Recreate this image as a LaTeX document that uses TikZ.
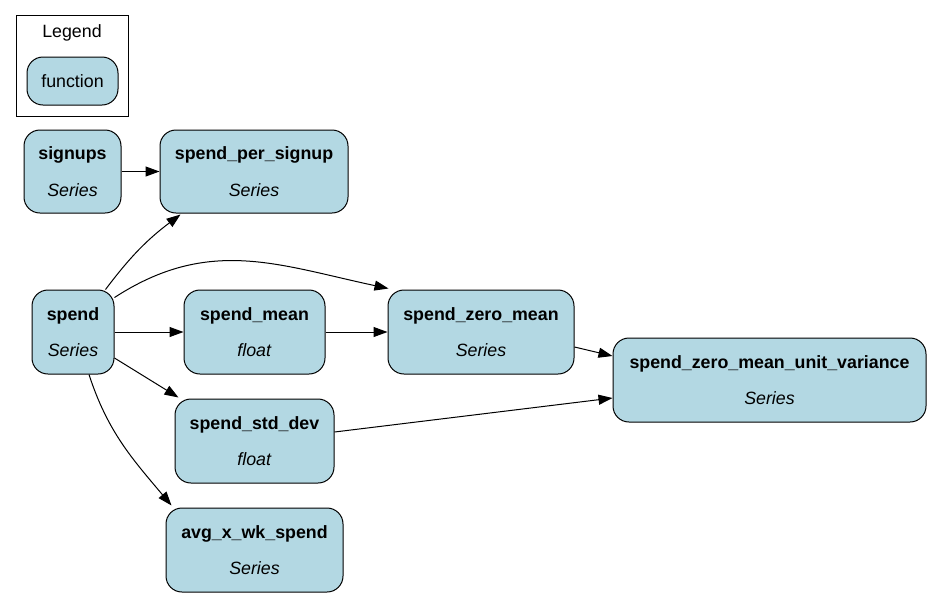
\documentclass[tikz,border=0pt]{standalone}
\usepackage{fontspec}
\setmainfont{Liberation Sans}
\usetikzlibrary{arrows.meta,calc}
\definecolor{nodefill}{HTML}{B3D8E3}
\tikzset{
  fn/.style={draw=black, fill=nodefill, rounded corners=16pt, line width=1pt,
    inner sep=0pt, align=center, font=\fontsize{17.8}{36.5}\selectfont},
  arr/.style={line width=1pt, -{Triangle[length=14pt,width=10pt]}},
}
\begin{document}
\begin{tikzpicture}[x=1pt,y=1pt]
\useasboundingbox (0,0) rectangle (931,-598);
% legend
\draw[line width=0.9pt] (16,-15) rectangle (128,-116);
\node[font=\fontsize{17.8}{21}\selectfont] (legendtitle) at (72,-33) {Legend};
\node[fn, minimum width=91pt, minimum height=48pt] (legendfn) at (72.5,-81) {function};
% nodes
\node[fn, minimum width=97pt, minimum height=83pt] (signups) at (72.5,-171.5) {\textbf{signups}\\\textit{Series}};
\node[fn, minimum width=188pt, minimum height=83pt] (sps) at (254,-171.5) {\textbf{spend\_per\_signup}\\\textit{Series}};
\node[fn, minimum width=82pt, minimum height=84pt] (spend) at (73,-332) {\textbf{spend}\\\textit{Series}};
\node[fn, minimum width=141pt, minimum height=84pt] (smean) at (254.5,-332) {\textbf{spend\_mean}\\\textit{float}};
\node[fn, minimum width=186pt, minimum height=84pt] (szm) at (481,-332) {\textbf{spend\_zero\_mean}\\\textit{Series}};
\node[fn, minimum width=313pt, minimum height=84pt] (szmuv) at (769.5,-380) {\textbf{spend\_zero\_mean\_unit\_variance}\\\textit{Series}};
\node[fn, minimum width=159pt, minimum height=84pt] (sstd) at (254.5,-441) {\textbf{spend\_std\_dev}\\\textit{float}};
\node[fn, minimum width=177pt, minimum height=84pt] (avg) at (254.5,-550) {\textbf{avg\_x\_wk\_spend}\\\textit{Series}};
% edges
\draw[arr] (signups) -- (sps);
\draw[arr] ($(spend.north east)+(-9,0)$) to[bend left=8] ($(sps.south west)+(21,-1)$);
\draw[arr] ($(spend.north east)+(0,-8)$) to[out=33,in=168,looseness=1.05] ($(szm.north west)+(1,1)$);
\draw[arr] (spend) -- (smean);
\draw[arr] ($(spend.east)+(0,-26)$) -- ($(sstd.north west)+(4,1)$);
\draw[arr] ($(spend.south)+(16,0)$) to[out=-72,in=130] ($(avg.north west)+(6,2)$);
\draw[arr] (smean) -- (szm);
\draw[arr] ($(szm.east)+(0,-15)$) -- ($(szmuv.west)+(0,24)$);
\draw[arr] ($(sstd.east)+(0,9)$) -- ($(szmuv.west)+(0,-18)$);
\end{tikzpicture}
\end{document}
